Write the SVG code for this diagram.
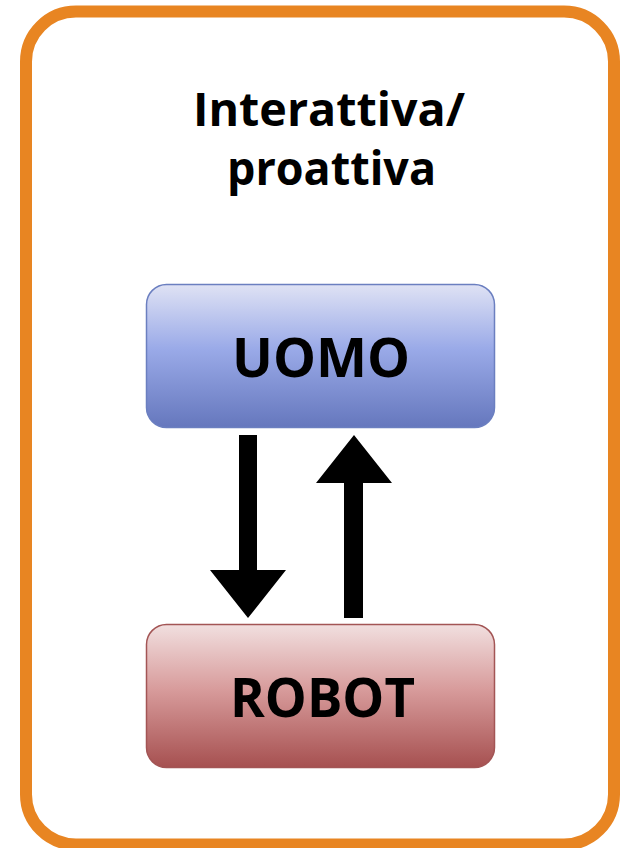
<svg xmlns="http://www.w3.org/2000/svg" width="623" height="848" viewBox="0 0 623 848">
  <defs>
    <linearGradient id="gradUomo" x1="0" y1="0" x2="0" y2="1">
      <stop offset="0" stop-color="#dfe2f4"/>
      <stop offset="0.45" stop-color="#9aaae8"/>
      <stop offset="1" stop-color="#6577bd"/>
    </linearGradient>
    <linearGradient id="gradRobot" x1="0" y1="0" x2="0" y2="1">
      <stop offset="0" stop-color="#f1dfdf"/>
      <stop offset="0.45" stop-color="#d89c9c"/>
      <stop offset="1" stop-color="#a65050"/>
    </linearGradient>
    <style>
      .frame { fill: #ffffff; stroke: #e88522; stroke-width: 12; }
      .title { font-family: "Open Sans", "Liberation Sans", sans-serif; font-weight: bold; font-size: 46px; fill: #000000; text-anchor: middle; }
      .label { font-family: "Open Sans", "Liberation Sans", sans-serif; font-weight: bold; font-size: 54px; fill: #000000; text-anchor: middle; }
      .arrow { fill: #000000; }
    </style>
  </defs>

  <rect width="623" height="848" fill="#ffffff"/>

  <!-- outer frame -->
  <rect class="frame" x="26" y="11.5" width="588" height="833" rx="50" ry="50"/>

  <!-- heading -->
  <text class="title" x="329" y="126" textLength="272" lengthAdjust="spacingAndGlyphs">Interattiva/</text>
  <text class="title" x="331.5" y="185" textLength="209" lengthAdjust="spacingAndGlyphs">proattiva</text>

  <g id="uomo">
    <rect x="146.5" y="284.5" width="348" height="143" rx="20" ry="20" fill="url(#gradUomo)" stroke="#6b7fc0" stroke-width="1.5"/>
    <text class="label" x="321" y="377" textLength="178" lengthAdjust="spacingAndGlyphs">UOMO</text>
  </g>

  <g id="robot">
    <rect x="146.5" y="624.5" width="348" height="143" rx="20" ry="20" fill="url(#gradRobot)" stroke="#a35555" stroke-width="1.5"/>
    <text class="label" x="322.5" y="717" textLength="185" lengthAdjust="spacingAndGlyphs">ROBOT</text>
  </g>

  <g id="connectors">
    <!-- UOMO to ROBOT -->
    <polygon class="arrow" points="239,435 257,435 257,570 286,570 248,618 210,570 239,570"/>
    <!-- ROBOT to UOMO -->
    <polygon class="arrow" points="344,618 363,618 363,483 392,483 354,435 316,483 344,483"/>
  </g>
</svg>
